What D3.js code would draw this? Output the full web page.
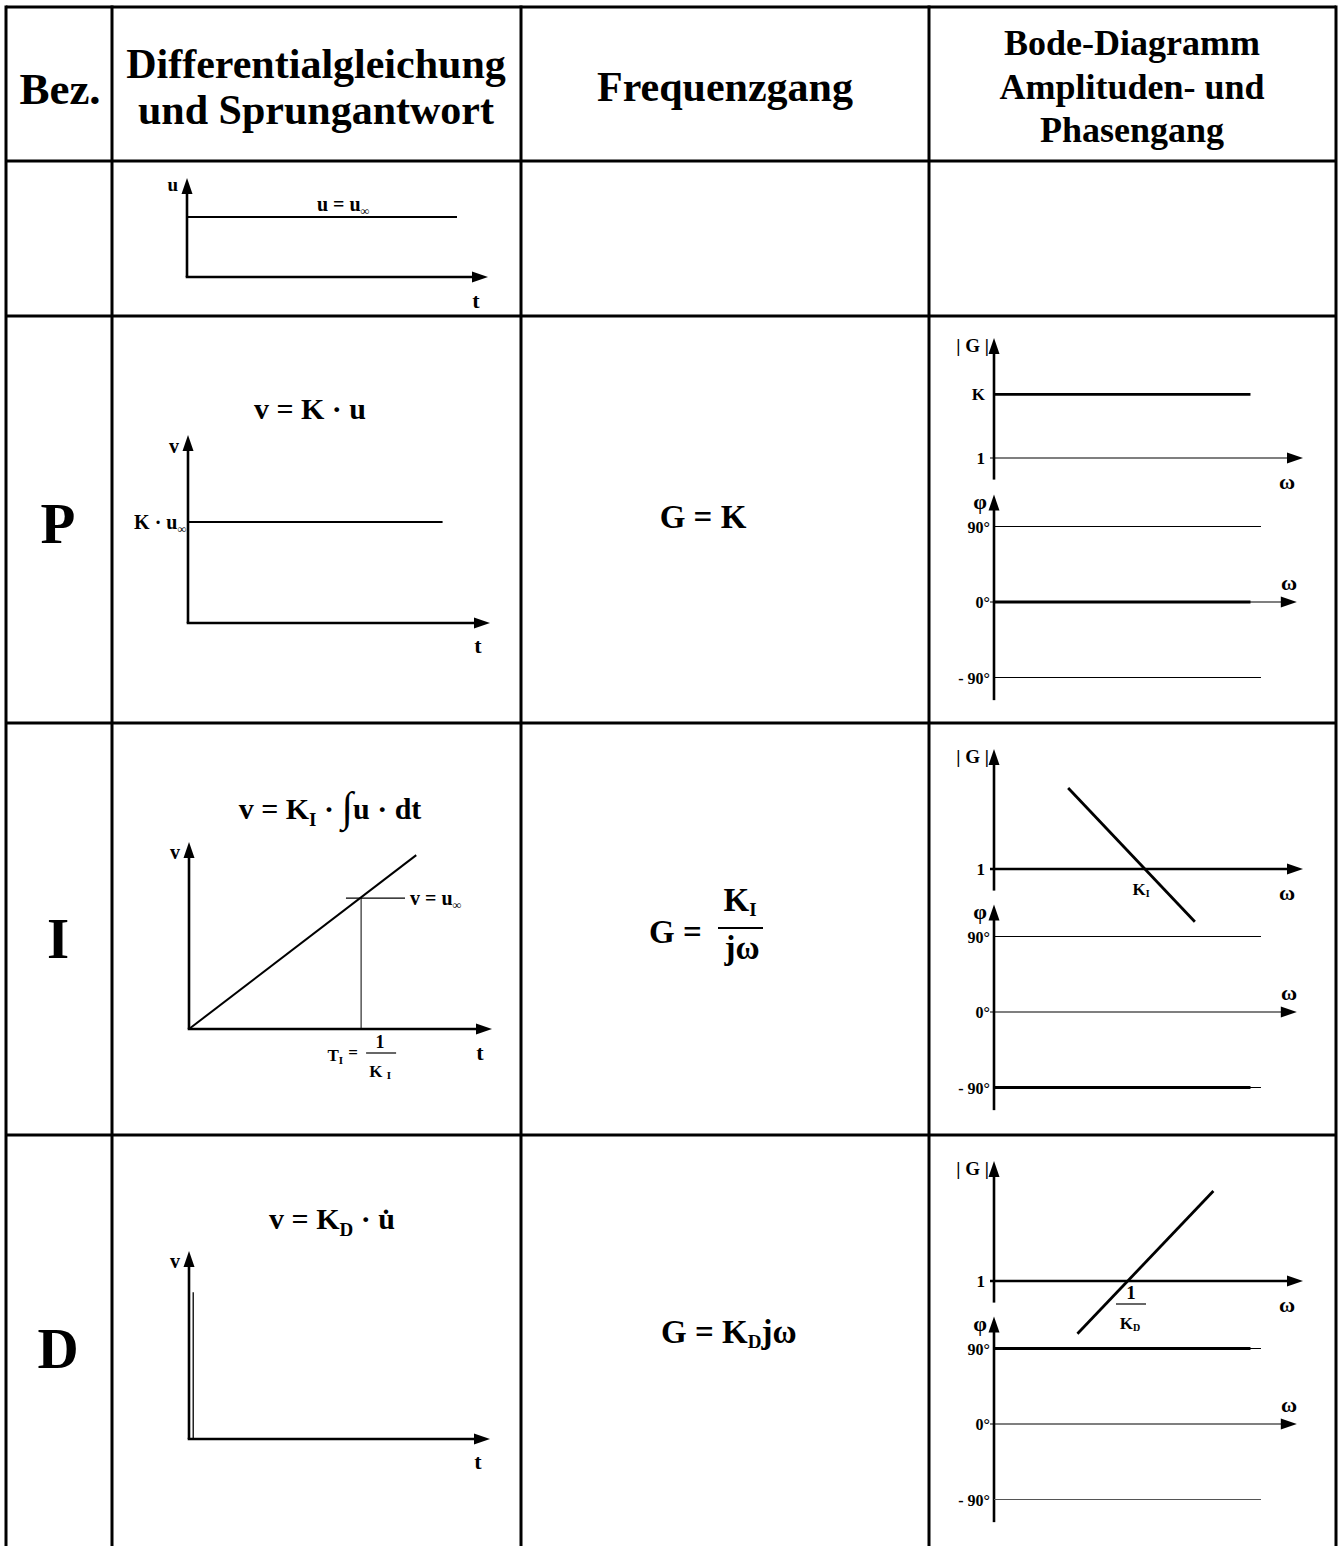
<!DOCTYPE html>
<html><head><meta charset="utf-8">
<script src="https://cdn.jsdelivr.net/npm/d3@7"></script>
<style>
body{margin:0;background:#fff}
text{font-family:"Liberation Serif","Times New Roman",serif;font-weight:bold;fill:#000;white-space:pre}
</style>
</head><body>
<svg id="c" width="1342" height="1546"></svg>
<script>
// ---------- DATA ----------
const headerLines = [["Bez."], ["Differentialgleichung", "und Sprungantwort"], ["Frequenzgang"], ["Bode-Diagramm", "Amplituden- und", "Phasengang"]];
const rowNames = ["", "P", "I", "D"];
// step responses: [t (fraction of time axis), value (fraction of value axis)]
const inputStep = [[0, 0.606], [0.897, 0.606]];
const pStep = [[0, 0.537], [0.843, 0.537]];
const iRamp = [[0, 0], [0.75, 0.93]];
const iLevel = [[0.518, 0.70], [0.713, 0.70]];
const iMarkT = [[0.568, 0], [0.568, 0.70]];
const dImpulse = [[0.012, 0], [0.012, 0.78]];
// Bode amplitude: [log-frequency fraction, log|G| (0 => |G| = 1)]
const ampP = [[0, 0.53], [0.83, 0.53]];
const ampI = [[0.24, 0.675], [0.65, -0.44]];
const ampD = [[0.27, -0.44], [0.71, 0.75]];
// Bode phase in degrees
const phaseP = [[0, 0], [0.83, 0]];
const phaseI = [[0, -90], [0.83, -90]];
const phaseD = [[0, 90], [0.83, 90]];
const phaseTicks = [90, 0, -90];
const phaseTickLabels = ["90°", "0°", "- 90°"];

// ---------- LAYOUT ----------
const colX = [6, 112, 521, 929, 1336];
const rowY = [7, 161, 316, 723, 1135];
const stepBoxes = [
  {x0: 187, y0: 277, w: 301, h: 99},
  {x0: 188, y0: 623, w: 302, h: 188},
  {x0: 189, y0: 1029, w: 303, h: 187},
  {x0: 189, y0: 1439, w: 301, h: 188}
];
const bodeBoxes = [null,
  {ampZero: 458, phZero: 602},
  {ampZero: 869, phZero: 1012},
  {ampZero: 1281, phZero: 1424}
];

const svg = d3.select("#c");

function line(x1, y1, x2, y2, w, col) {
  return svg.append("line").attr("x1", x1).attr("y1", y1).attr("x2", x2).attr("y2", y2)
    .attr("stroke", col || "#000").attr("stroke-width", w);
}
function arrow(x, y, dir, len, half) {
  len = len || 16; half = half || 5.5;
  let p;
  if (dir === "up") p = [[x, y], [x - half, y + len], [x + half, y + len]];
  else p = [[x, y], [x - len, y - half], [x - len, y + half]];
  svg.append("path").attr("d", d3.line()(p) + "Z").attr("fill", "#000");
}
function txt(x, y, s, size, anchor) {
  return svg.append("text").attr("x", x).attr("y", y).attr("font-size", size)
    .attr("text-anchor", anchor || "start").text(s);
}
function rich(x, y, size, anchor, parts) {
  const t = svg.append("text").attr("x", x).attr("y", y).attr("font-size", size)
    .attr("text-anchor", anchor || "start");
  let cur = 0;
  parts.forEach(p => {
    const s = p[0], o = p[1] || {};
    const ts = t.append("tspan").attr("font-size", o.fs || size).text(s);
    const off = o.off || 0;
    if (off !== cur) { ts.attr("dy", off - cur); cur = off; }
    if (o.dx) ts.attr("dx", o.dx);
  });
  return t;
}

// ---------- TABLE ----------
const H = 1546;
line(colX[0], rowY[0], colX[4], rowY[0], 3);
colX.forEach(x => line(x, rowY[0] - 1.5, x, H, 3));
rowY.slice(1).forEach(y => line(colX[0], y, colX[4], y, 3));

// header
const headerCfg = [
  {x: 60, ys: [104], fs: 45},
  {x: 316, ys: [78, 124], fs: 42},
  {x: 725, ys: [101], fs: 42},
  {x: 1132, ys: [55, 99, 142], fs: 36}
];
headerLines.forEach((ls, i) => ls.forEach((s, j) => txt(headerCfg[i].x, headerCfg[i].ys[j], s, headerCfg[i].fs, "middle")));

// row names
const nameY = [0, 543, 958, 1368];
rowNames.forEach((n, i) => { if (n) txt(58, nameY[i], n, 57, "middle"); });

// ---------- STEP RESPONSE CHARTS ----------
function stepChart(b) {
  const x = d3.scaleLinear().domain([0, 1]).range([b.x0, b.x0 + b.w]);
  const y = d3.scaleLinear().domain([0, 1]).range([b.y0, b.y0 - b.h]);
  line(x(0), y(0), x(1) - 10, y(0), 2.6).attr("stroke-linecap", "square");
  arrow(x(1), y(0), "right");
  line(x(0), y(0), x(0), y(1) + 10, 2.6);
  arrow(x(0), y(1), "up");
  return {x, y};
}
function path(data, sx, sy, w) {
  svg.append("path").datum(data).attr("d", d3.line().x(d => sx(d[0])).y(d => sy(d[1])))
    .attr("fill", "none").attr("stroke", "#000").attr("stroke-width", w);
}

// row 0: input step
{
  const {x, y} = stepChart(stepBoxes[0]);
  path(inputStep, x, y, 2);
  txt(x(0) - 9, y(1) + 13, "u", 19, "end");
  rich(343, 211, 20, "middle", [["u = u"], ["∞", {fs: 12, off: 4}]]);
  txt(x(0.96), y(0) + 31, "t", 22, "middle");
}
// P
{
  const {x, y} = stepChart(stepBoxes[1]);
  path(pStep, x, y, 2);
  txt(x(0) - 9, y(1) + 18, "v", 20, "end");
  rich(x(0) - 2, y(pStep[0][1]) + 7, 20, "end", [["K · u"], ["∞", {fs: 12, off: 4}]]);
  txt(x(0.96), y(0) + 30, "t", 22, "middle");
  rich(310, 419, 30, "middle", [["v = K · u"]]);
}
// I
{
  const {x, y} = stepChart(stepBoxes[2]);
  path(iRamp, x, y, 2);
  path(iLevel, x, y, 1.3);
  path(iMarkT, x, y, 1);
  txt(x(0) - 9, y(1) + 17, "v", 20, "end");
  rich(x(iLevel[1][0]) + 5, y(iLevel[0][1]) + 7, 20, "start", [["v = u"], ["∞", {fs: 12, off: 4}]]);
  txt(x(0.96), y(0) + 31, "t", 22, "middle");
  rich(330, 819, 30, "middle", [["v = K"], ["I", {fs: 19, off: 7}], [" · "], ["∫", {fs: 42, off: 2}], ["u · dt"]]);
  // T_I = 1/K_I
  rich(x(iMarkT[0][0]) - 18, y(0) + 32, 17, "end", [["T"], ["I", {fs: 11, off: 3}]]);
  txt(x(iMarkT[0][0]) - 8, y(0) + 29, "=", 17, "middle");
  txt(x(iMarkT[0][0]) + 19, y(0) + 19, "1", 18, "middle");
  line(x(iMarkT[0][0]) + 5, y(0) + 24, x(iMarkT[0][0]) + 35, y(0) + 24, 1.2);
  rich(x(iMarkT[0][0]) + 19, y(0) + 48, 17, "middle", [["K "], ["I", {fs: 11, off: 2}]]);
}
// D
{
  const {x, y} = stepChart(stepBoxes[3]);
  svg.append("path").datum(dImpulse).attr("d", d3.line().x(d => x(d[0]) + 0.6).y(d => y(d[1])))
    .attr("fill", "none").attr("stroke", "#000").attr("stroke-width", 1.3);
  txt(x(0) - 9, y(1) + 17, "v", 20, "end");
  txt(x(0.96), y(0) + 30, "t", 22, "middle");
  rich(332, 1229, 30, "middle", [["v = K"], ["D", {fs: 19, off: 7}], [" · u\u0307"]]);
}

// ---------- FREQUENZGANG ----------
rich(703, 528, 33, "middle", [["G = K"]]);
txt(710, 943, "G = ", 33, "end");
rich(740, 911, 33, "middle", [["K"], ["I", {fs: 19, off: 5}]]);
line(718, 928, 763, 928, 1.8);
txt(742, 959, "jω", 33, "middle");
rich(661, 1343, 33, "start", [["G = K"], ["D", {fs: 19, off: 5}], ["jω", {off: 0}]]);

// ---------- BODE ----------
function bode(b, amp, ampW1, phase) {
  const x = d3.scaleLinear().domain([0, 1]).range([994, 1303]);
  const ya = d3.scaleLinear().domain([0, 1]).range([b.ampZero, b.ampZero - 120]);
  const yp = d3.scaleLinear().domain([-90, 90]).range([b.phZero + 75.5, b.phZero - 75.5]);
  // amplitude axes
  line(x(0), ya(-0.18), x(0), ya(1) + 10, 2.6);
  arrow(x(0), ya(1), "up");
  line(x(0) - 4, ya(0), x(1) - 10, ya(0), ampW1);
  arrow(x(1), ya(0), "right");
  txt(989, ya(1) + 14, "| G |", 19, "end");
  txt(985, ya(0) + 6, "1", 17, "end");
  txt(1287, ya(0) + 31, "ω", 22, "middle");
  // phase axes
  line(x(0), yp(-117), x(0), yp(128) + 10, 2.6);
  arrow(x(0), yp(128), "up");
  txt(987, yp(128) + 14, "φ", 22, "end");
  phaseTicks.forEach((t, i) => {
    const xe = t === 0 ? x(0.98) - 10 : x(0.864);
    line(t === 0 ? x(0) - 4 : x(0), yp(t), xe, yp(t), 1.2, t === -90 && b === bodeBoxes[3] ? "#555" : "#000");
    txt(990, yp(t) + 6, phaseTickLabels[i], 16, "end");
  });
  arrow(x(0.98), yp(0), "right");
  txt(1289, yp(0) - 12, "ω", 22, "middle");
  // data
  path(amp, x, ya, 2.8);
  path(phase, x, yp, 3);
  return {x, ya, yp};
}
{
  const s = bode(bodeBoxes[1], ampP, 1.2, phaseP);
  txt(985, s.ya(ampP[0][1]) + 6, "K", 17, "end");
}
{
  const s = bode(bodeBoxes[2], ampI, 2.6, phaseI);
  rich(1141, s.ya(0) + 26, 17, "middle", [["K"], ["I", {fs: 10, off: 2}]]);
}
{
  const s = bode(bodeBoxes[3], ampD, 2.6, phaseD);
  txt(1131, s.ya(0) + 18, "1", 19, "middle");
  line(1116, s.ya(0) + 23, 1146, s.ya(0) + 23, 1.2);
  rich(1130, s.ya(0) + 48, 17, "middle", [["K"], ["D", {fs: 10, off: 2}]]);
}
</script>
</body></html>
